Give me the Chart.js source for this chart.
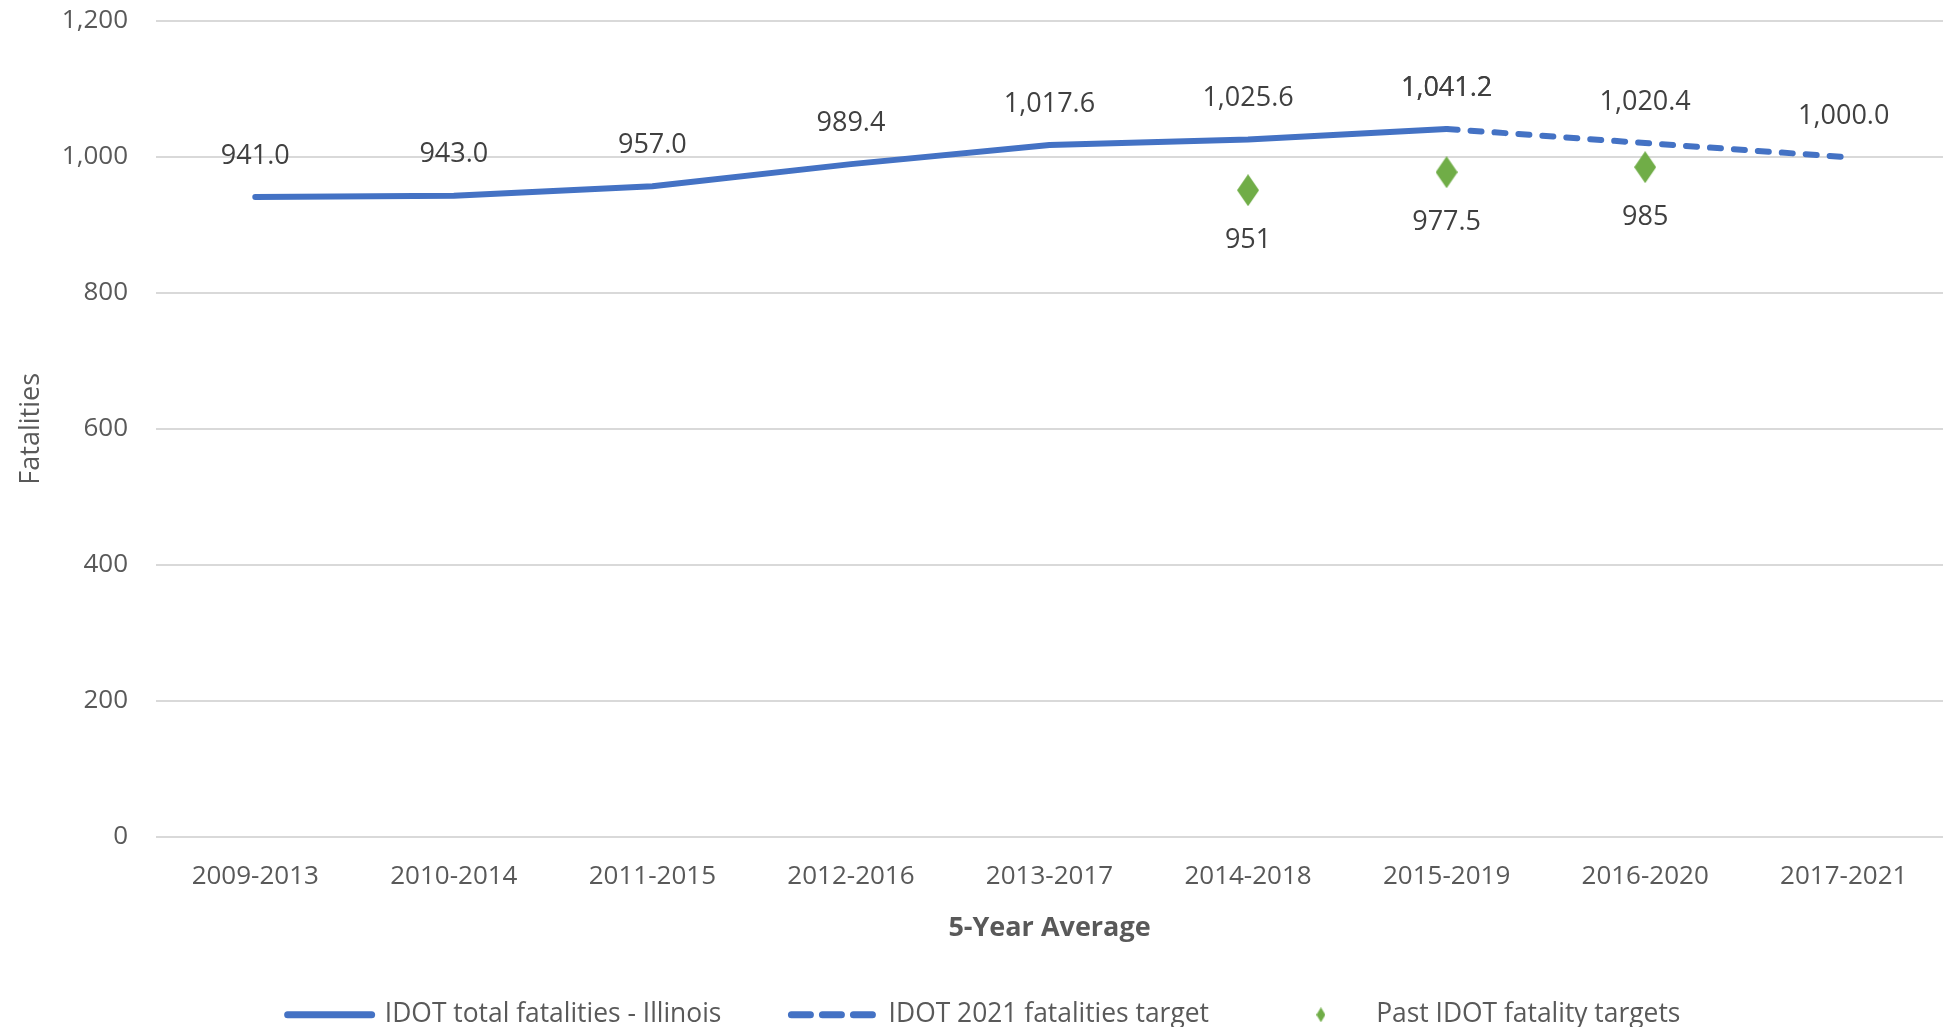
<!DOCTYPE html>
<html>
<head>
<meta charset="utf-8">
<title>IDOT fatalities - 5-year average</title>
<script src="https://cdn.jsdelivr.net/npm/chart.js@4.4.1/dist/chart.umd.min.js"></script>
<style>
  body { margin: 0; background: #fff; overflow: hidden; }
  #wrap { width: 1956px; height: 1027px; }
</style>
</head>
<body>
<div id="wrap"><canvas id="chart"></canvas></div>
<script>
// --- DATA ---
const periods = ["2009-2013", "2010-2014", "2011-2015", "2012-2016", "2013-2017", "2014-2018", "2015-2019", "2016-2020", "2017-2021"];
const totalFatalities = [941.0, 943.0, 957.0, 989.4, 1017.6, 1025.6, 1041.2, null, null];
const target2021 = [null, null, null, null, null, null, 1041.2, 1020.4, 1000.0];
const pastTargets = [null, null, null, null, null, 951, 977.5, 985, null];
const yTicks = [0, 200, 400, 600, 800, 1000, 1200];

const BLUE = '#4472C4';
const GREEN = '#70AD47';
const GREY_TEXT = '#595959';

Chart.defaults.font.family = '"Open Sans", sans-serif';

// diamond marker, taller than wide like the Excel one
function diamond(w, h, color) {
    const c = document.createElement('canvas');
    c.width = w; c.height = h;
    const g = c.getContext('2d');
    g.fillStyle = color;
    g.beginPath();
    g.moveTo(w / 2, 0); g.lineTo(w, h / 2); g.lineTo(w / 2, h); g.lineTo(0, h / 2);
    g.closePath(); g.fill();
    return c;
}
const bigDiamond = diamond(22, 32, GREEN);
const smallDiamond = diamond(9, 15, GREEN);

const oneDecimal = v => v.toLocaleString('en-US', { minimumFractionDigits: 1, maximumFractionDigits: 1 });
const plain = v => v.toLocaleString('en-US');

// --- value labels over/under the points ---
const pointLabels = {
    id: 'pointLabels',
    afterDatasetsDraw(chart) {
        const ctx = chart.ctx;
        ctx.save();
        ctx.font = '27px "Open Sans"';
        ctx.fillStyle = '#404040';
        ctx.textAlign = 'center';
        ctx.textBaseline = 'middle';
        chart.data.datasets.forEach((ds, i) => {
            const meta = chart.getDatasetMeta(i);
            meta.data.forEach((pt, j) => {
                const v = ds.data[j];
                if (v === null) return;
                ctx.fillText(ds.labelFormat(v), pt.x, pt.y + ds.labelDy);
            });
        });
        ctx.restore();
    }
};

new Chart(document.getElementById('chart'), {
    type: 'line',
    data: {
        labels: periods,
        datasets: [
            {
                label: 'IDOT total fatalities - Illinois',
                data: totalFatalities,
                borderColor: BLUE, backgroundColor: BLUE,
                borderWidth: 6, borderCapStyle: 'round', borderJoinStyle: 'round',
                pointRadius: 0, tension: 0,
                labelFormat: oneDecimal, labelDy: -41,
                legendDash: []
            },
            {
                label: 'IDOT 2021 fatalities target',
                data: target2021,
                borderColor: BLUE, backgroundColor: BLUE,
                borderWidth: 6, borderCapStyle: 'round', borderJoinStyle: 'round',
                borderDash: [11, 13],
                pointRadius: 0, tension: 0,
                labelFormat: oneDecimal, labelDy: -41,
                legendDash: [19, 12]
            },
            {
                label: 'Past IDOT fatality targets',
                data: pastTargets,
                showLine: false,
                borderColor: GREEN, backgroundColor: GREEN,
                pointStyle: bigDiamond, pointRadius: 12,
                labelFormat: plain, labelDy: 50
            }
        ]
    },
    options: {
        responsive: true,
        maintainAspectRatio: false,
        animation: false,
        events: [],
        // left padding nudges the centred legend right; y axis width makes up for it
        layout: { padding: { top: 21, bottom: -11, left: 12, right: 0 } },
        plugins: {
            tooltip: { enabled: false },
            legend: {
                position: 'bottom',
                labels: {
                    color: GREY_TEXT,
                    font: { size: 26.4 },
                    padding: 70,
                    usePointStyle: true,
                    pointStyleWidth: 84,
                    generateLabels: chart => chart.data.datasets.map((ds, i) => ({
                        text: ds.label,
                        datasetIndex: i,
                        pointStyle: ds.showLine === false ? smallDiamond : 'line',
                        strokeStyle: ds.borderColor,
                        fillStyle: ds.backgroundColor,
                        lineWidth: ds.showLine === false ? 0 : 7,
                        lineDash: ds.legendDash || [],
                        lineCap: 'round',
                        fontColor: GREY_TEXT
                    }))
                }
            }
        },
        scales: {
            x: {
                offset: true,
                grid: { display: false, drawTicks: false },
                border: { display: false },
                ticks: { color: GREY_TEXT, font: { size: 26 }, padding: 24, maxRotation: 0, autoSkip: false },
                title: {
                    display: true, text: '5-Year Average', color: GREY_TEXT,
                    font: { size: 27, weight: 'bold' },
                    padding: { top: -3.4, bottom: -13.2 }
                }
            },
            y: {
                min: 0, max: 1200,
                afterBuildTicks: s => { s.ticks = yTicks.map(v => ({ value: v })); },
                afterFit: s => { s.width = 144; s.paddingTop = 16; s.paddingBottom = 16; },
                grid: { color: '#d9d9d9', lineWidth: 2, drawTicks: false },
                border: { display: false },
                ticks: { color: GREY_TEXT, font: { size: 26 }, padding: 28, callback: v => plain(v) },
                title: {
                    display: true, text: 'Fatalities', color: GREY_TEXT,
                    font: { size: 27 },
                    padding: { top: 3, bottom: 0 }
                }
            }
        }
    },
    plugins: [pointLabels]
});
</script>
</body>
</html>
